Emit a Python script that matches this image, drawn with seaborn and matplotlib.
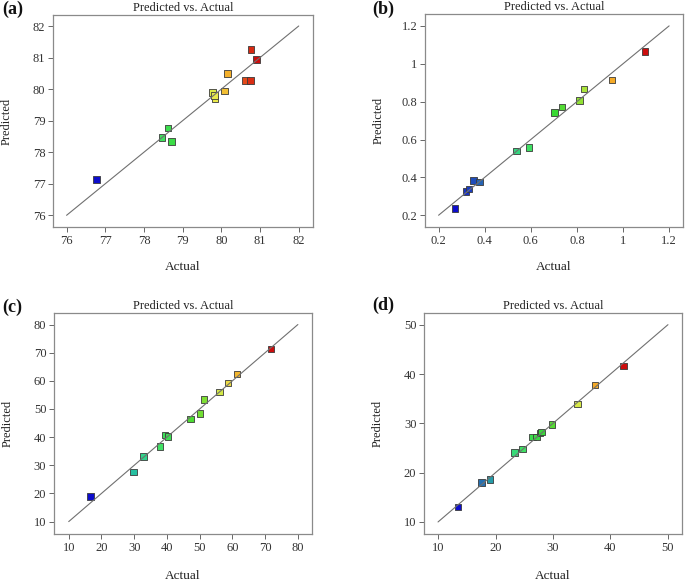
import matplotlib
matplotlib.use("Agg")
import matplotlib.pyplot as plt
import seaborn as sns
import pandas as pd
from matplotlib.colors import LinearSegmentedColormap, Normalize

# ---------------- data ----------------
a_actual = [76.78, 78.47, 78.62, 78.71, 79.77, 79.84, 79.82, 80.08, 80.16, 80.62, 80.76, 80.77, 80.91]
a_pred   = [77.14, 78.47, 78.77, 78.34, 79.89, 79.68, 79.80, 79.94, 80.49, 80.28, 80.28, 81.26, 80.94]

b_actual = [0.272, 0.320, 0.333, 0.352, 0.378, 0.537, 0.592, 0.702, 0.735, 0.811, 0.830, 0.953, 1.096]
b_pred   = [0.235, 0.325, 0.338, 0.383, 0.375, 0.539, 0.558, 0.743, 0.771, 0.807, 0.868, 0.913, 1.066]

c_actual = [16.7, 29.8, 32.9, 37.9, 39.4, 40.4, 47.2, 50.1, 51.3, 56.1, 58.6, 61.4, 71.8]
c_pred   = [18.9, 27.7, 33.1, 36.7, 40.7, 40.3, 46.5, 48.4, 53.4, 56.1, 59.2, 62.4, 71.25]

d_actual = [13.5, 17.56, 19.07, 23.26, 24.7, 26.45, 27.15, 27.7, 28.0, 29.8, 34.3, 37.3, 42.3]
d_pred   = [13.0, 18.05, 18.6, 24.1, 24.8, 27.2, 27.26, 28.07, 28.2, 29.8, 33.96, 37.8, 41.6]

panel_labels = ["(a)", "(b)", "(c)", "(d)"]
title_text = "Predicted vs. Actual"
x_label = "Actual"
y_label = "Predicted"

a_ticks = [76, 77, 78, 79, 80, 81, 82]
b_ticks = [0.2, 0.4, 0.6, 0.8, 1.0, 1.2]
b_ticklabels = ["0.2", "0.4", "0.6", "0.8", "1", "1.2"]
c_ticks = [10, 20, 30, 40, 50, 60, 70, 80]
d_ticks = [10, 20, 30, 40, 50]

# ---------------- style ----------------
sns.set_theme(style="white")
plt.rcParams["font.family"] = ["Liberation Serif", "DejaVu Serif"]

cmap = LinearSegmentedColormap.from_list("de", [
    (0.00, (0.05, 0.05, 0.80)),
    (0.13, (0.15, 0.40, 0.70)),
    (0.25, (0.15, 0.80, 0.62)),
    (0.38, (0.25, 0.88, 0.40)),
    (0.52, (0.22, 0.85, 0.20)),
    (0.65, (0.55, 0.88, 0.20)),
    (0.74, (0.92, 0.92, 0.30)),
    (0.83, (0.96, 0.66, 0.15)),
    (0.93, (0.90, 0.30, 0.10)),
    (1.00, (0.80, 0.05, 0.05)),
])

fig = plt.figure(figsize=(6.85, 5.82), dpi=100)

panels = [
    dict(x=a_actual, y=a_pred, ticks=a_ticks, labels=[str(t) for t in a_ticks],
         xlim=(75.65, 82.37), ylim=(75.63, 82.35),
         rect=[0.0774, 0.610, 0.3796, 0.3643], lab_xy=(0.004, 0.998)),
    dict(x=b_actual, y=b_pred, ticks=b_ticks, labels=b_ticklabels,
         xlim=(0.141, 1.26), ylim=(0.138, 1.263),
         rect=[0.6204, 0.610, 0.3766, 0.366], lab_xy=(0.543, 0.998)),
    dict(x=c_actual, y=c_pred, ticks=c_ticks, labels=[str(t) for t in c_ticks],
         xlim=(5.5, 84.3), ylim=(5.6, 84.1),
         rect=[0.0788, 0.0825, 0.3766, 0.3797], lab_xy=(0.004, 0.487)),
    dict(x=d_actual, y=d_pred, ticks=d_ticks, labels=[str(t) for t in d_ticks],
         xlim=(7.56, 52.44), ylim=(7.56, 52.37),
         rect=[0.619, 0.0825, 0.3766, 0.3797], lab_xy=(0.543, 0.490)),
]

for p, lab in zip(panels, panel_labels):
    ax = fig.add_axes(p["rect"])
    df = pd.DataFrame({"Actual": p["x"], "Predicted": p["y"]})
    norm = Normalize(min(p["x"]), max(p["x"]))
    sns.scatterplot(data=df, x="Actual", y="Predicted", hue="Actual",
                    palette=cmap, hue_norm=norm, marker="s", s=22,
                    edgecolor="#3a3a3a", linewidth=0.6, legend=False,
                    ax=ax, zorder=2)
    lo, hi = p["ticks"][0], p["ticks"][-1]
    ax.plot([lo, hi], [lo, hi], color="#707070", lw=0.8, zorder=3)
    ax.set_xlim(*p["xlim"])
    ax.set_ylim(*p["ylim"])
    ax.set_xticks(p["ticks"])
    ax.set_xticklabels(p["labels"])
    ax.set_yticks(p["ticks"])
    ax.set_yticklabels(p["labels"])
    ax.tick_params(axis="both", direction="out", length=3.5, width=0.7,
                   color="#666666", labelsize=9, labelcolor="#333333", pad=2,
                   bottom=True, left=True)
    for s in ax.spines.values():
        s.set_color("#8a8a8a")
        s.set_linewidth(0.9)
    ax.set_title(title_text, fontsize=9, color="#222222", pad=3)
    ax.set_xlabel(x_label, fontsize=9.5, color="#222222")
    ax.set_ylabel(y_label, fontsize=9, color="#222222")
    ax.xaxis.set_label_coords(0.5, -0.19)
    ax.xaxis.label.set_va("center")
    ax.yaxis.set_label_coords(-0.178, 0.5)
    ax.yaxis.label.set_va("center")
    ax.yaxis.label.set_ha("center")
    ax.grid(False)
    fig.text(p["lab_xy"][0], p["lab_xy"][1], lab, fontsize=13, fontweight="bold",
             ha="left", va="top", color="#111111")

fig.savefig("out.png", dpi=100)
